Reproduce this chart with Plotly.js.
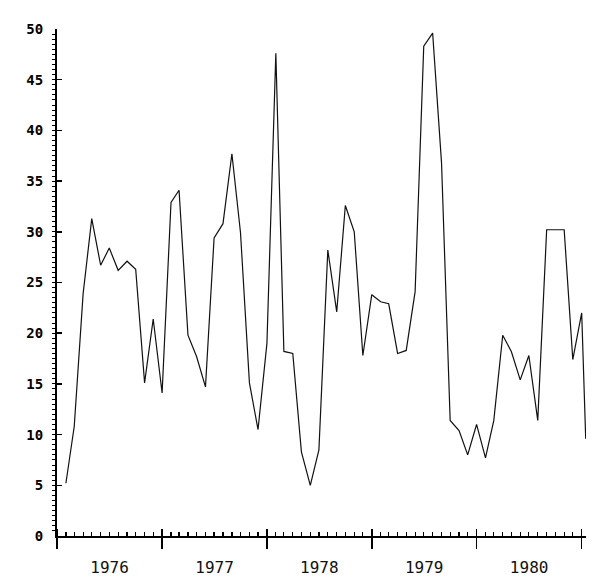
<!DOCTYPE html>
<html>
<head>
<meta charset="utf-8">
<script src="https://cdn.plot.ly/plotly-3.0.1.min.js"></script>
<style>html,body{margin:0;padding:0;background:#fff;}#chart{width:600px;height:581px;}</style>
</head>
<body>
<div id="chart"></div>
<script>
const months = [
  "1976-02-01","1976-03-01","1976-04-01","1976-05-01","1976-06-01","1976-07-01","1976-08-01","1976-09-01","1976-10-01","1976-11-01","1976-12-01",
  "1977-01-01","1977-02-01","1977-03-01","1977-04-01","1977-05-01","1977-06-01","1977-07-01","1977-08-01","1977-09-01","1977-10-01","1977-11-01","1977-12-01",
  "1978-01-01","1978-02-01","1978-03-01","1978-04-01","1978-05-01","1978-06-01","1978-07-01","1978-08-01","1978-09-01","1978-10-01","1978-11-01","1978-12-01",
  "1979-01-01","1979-02-01","1979-03-01","1979-04-01","1979-05-01","1979-06-01","1979-07-01","1979-08-01","1979-09-01","1979-10-01","1979-11-01","1979-12-01",
  "1980-01-01","1980-02-01","1980-03-01","1980-04-01","1980-05-01","1980-06-01","1980-07-01","1980-08-01","1980-09-01","1980-10-01","1980-11-01","1980-12-01",
  "1981-01-01","1981-01-15"
];
const values = [
  5.2, 10.8, 23.9, 31.3, 26.7, 28.4, 26.2, 27.1, 26.3, 15.1, 21.4,
  14.1, 32.9, 34.1, 19.8, 17.7, 14.7, 29.4, 30.8, 37.7, 29.9, 15.1, 10.5,
  19.0, 47.6, 18.2, 18.0, 8.3, 5.0, 8.5, 28.2, 22.1, 32.6, 30.0, 17.8,
  23.8, 23.1, 22.9, 18.0, 18.3, 24.1, 48.3, 49.6, 36.8, 11.4, 10.4, 8.0,
  11.0, 7.7, 11.4, 19.8, 18.2, 15.4, 17.8, 11.4, 30.2, 30.2, 30.2, 17.4,
  22.0, 9.6
];
const xRange = ["1976-01-01", "1981-01-16"];
const yRange = [0, 50];

const traces = [
  {x: months, y: values, type: "scatter", mode: "lines",
   line: {color: "#111", width: 1.2}, hoverinfo: "skip", showlegend: false},
  {x: [xRange[0]], y: [0], xaxis: "x2", yaxis: "y", type: "scatter", mode: "markers",
   marker: {opacity: 0}, hoverinfo: "skip", showlegend: false}
];

const layout = {
  width: 600, height: 581,
  margin: {l: 57, r: 14, t: 29, b: 45},
  paper_bgcolor: "#fff", plot_bgcolor: "#fff",
  showlegend: false,
  xaxis: {
    type: "date", range: xRange, automargin: false,
    tick0: "1976-01-01", dtick: "M12", tickformat: "%Y", ticklabelmode: "period",
    ticks: "inside", ticklen: 7, tickwidth: 1.5, tickcolor: "#000",
    minor: {dtick: "M1", ticks: "inside", ticklen: 4, tickwidth: 1.2, tickcolor: "#000", showgrid: false},
    showline: true, linecolor: "#000", linewidth: 2,
    showgrid: false, zeroline: false,
    ticklabelstandoff: 16,
    tickfont: {family: "DejaVu Sans Mono", size: 16, color: "#111"}
  },
  xaxis2: {
    type: "date", range: xRange, overlaying: "x", anchor: "y", side: "bottom",
    tick0: "1976-01-01", dtick: "M12",
    ticks: "outside", ticklen: 12, tickwidth: 1.5, tickcolor: "#000",
    showticklabels: false, showgrid: false, zeroline: false, showline: false
  },
  yaxis: {
    range: yRange, automargin: false,
    tick0: 0, dtick: 5,
    ticks: "inside", ticklen: 5, tickwidth: 1.5, tickcolor: "#000",
    minor: {dtick: 0.5, ticks: "outside", ticklen: 3, tickwidth: 1, tickcolor: "#000", showgrid: false},
    showline: true, linecolor: "#000", linewidth: 2,
    showgrid: false, zeroline: false,
    ticklabelstandoff: 9,
    tickfont: {family: "DejaVu Sans Mono", size: 14, color: "#000", weight: "bold"}
  }
};

Plotly.newPlot("chart", traces, layout, {staticPlot: true, displayModeBar: false});
</script>
</body>
</html>
